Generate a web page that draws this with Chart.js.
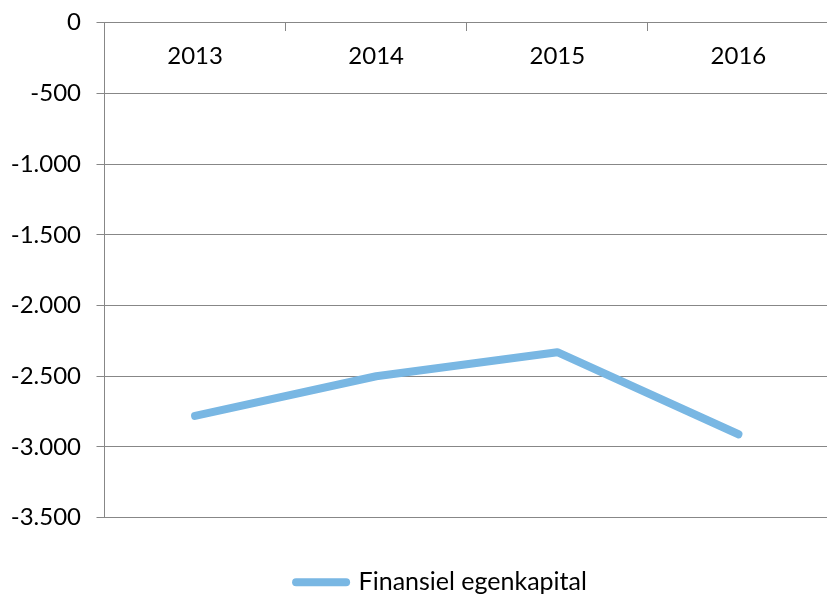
<!DOCTYPE html>
<html>
<head>
<meta charset="utf-8">
<script src="https://cdn.jsdelivr.net/npm/chart.js@4/dist/chart.umd.min.js"></script>
<style>
  html, body { margin: 0; padding: 0; background: #fff; overflow: hidden; }
  #wrap { position: absolute; left: 0; top: 0; width: 830px; height: 605px; }
</style>
</head>
<body>
<div id="wrap"><canvas id="c" width="830" height="605"></canvas></div>
<script>
const categories = ['2013', '2014', '2015', '2016'];
const seriesName = 'Finansiel egenkapital';
const seriesValues = [-2780, -2500, -2330, -2910];
const yMin = -3500;
const yMax = 0;
const yStep = 500;

function fmtDa(v) {
  const s = Math.abs(v).toString().replace(/\B(?=(\d{3})+(?!\d))/g, '.');
  return (v < 0 ? '-' : '') + s;
}

const FONT = { family: 'Lato, "Open Sans", sans-serif', size: 24 };
const LEGEND_FONT = { family: 'Lato, "Open Sans", sans-serif', size: 25 };
const GRID = '#878787';
const LINE = '#79B7E3';

// shifts the centred legend block to where the reference puts it
const legendShift = {
  id: 'legendShift',
  afterLayout(chart) {
    if (chart.legend) { chart.legend.left += 27; chart.legend.right += 27; }
  }
};

new Chart(document.getElementById('c'), {
  type: 'line',
  data: {
    labels: categories,
    datasets: [{
      label: seriesName,
      data: seriesValues,
      borderColor: LINE,
      backgroundColor: LINE,
      borderWidth: 8,
      borderCapStyle: 'round',
      borderJoinStyle: 'round',
      pointRadius: 0,
      pointHoverRadius: 0,
      tension: 0,
      fill: false
    }]
  },
  plugins: [legendShift],
  options: {
    responsive: false,
    animation: false,
    devicePixelRatio: 1,
    layout: { padding: { left: 0, right: 1, top: 22.7, bottom: 0.3 } },
    plugins: {
      legend: {
        position: 'bottom',
        labels: {
          color: '#000',
          font: LEGEND_FONT,
          usePointStyle: true,
          pointStyle: 'line',
          pointStyleWidth: 50,
          padding: 52,
          generateLabels: (chart) => {
            const items = Chart.defaults.plugins.legend.labels.generateLabels(chart);
            items.forEach(it => {
              it.lineCap = 'round';
              it.lineWidth = 8;
              it.strokeStyle = LINE;
              it.fillStyle = LINE;
              it.pointStyle = 'line';
            });
            return items;
          }
        }
      },
      tooltip: { enabled: false }
    },
    scales: {
      x: {
        position: { y: 0 },
        offset: true,
        grid: {
          offset: true,
          drawOnChartArea: false,
          drawTicks: true,
          tickLength: 8,
          color: GRID
        },
        border: { display: true, color: GRID, width: 1 },
        ticks: { color: '#000', font: FONT, padding: 11.5, maxRotation: 0 }
      },
      y: {
        min: yMin,
        max: yMax,
        grid: { color: GRID, tickLength: 8, lineWidth: 1 },
        border: { display: true, color: GRID, width: 1 },
        ticks: {
          stepSize: yStep,
          color: '#000',
          font: FONT,
          padding: 15.5,
          callback: (v) => fmtDa(v)
        },
        afterFit: (scale) => {
          scale.width = 104.5;
          scale.paddingTop = 14;
          scale.paddingBottom = 14;
        }
      }
    }
  }
});
</script>
</body>
</html>
